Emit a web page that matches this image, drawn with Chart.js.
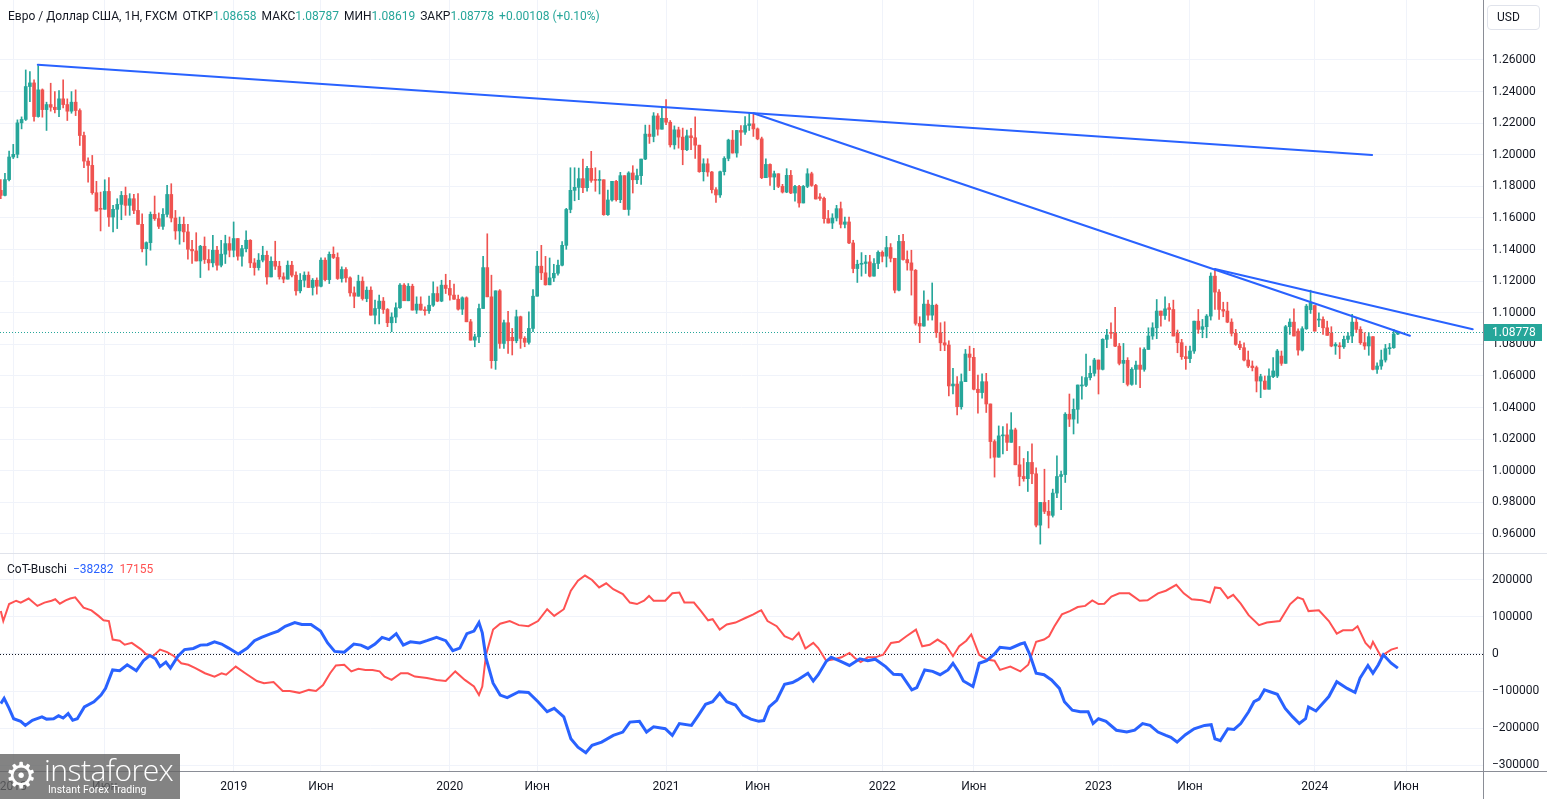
<!DOCTYPE html>
<html lang="ru">
<head>
<meta charset="utf-8">
<title>EUR/USD 1W + CoT</title>
<script src="https://cdn.jsdelivr.net/npm/chart.js@4.4.1/dist/chart.umd.min.js"></script>
<style>
  html, body { margin: 0; padding: 0; background: #fff; }
  body { position: relative; width: 1547px; height: 799px; overflow: hidden; font-family: Roboto, "Noto Sans", sans-serif; color: #131722; }
  canvas { position: absolute; left: 0; }
  #priceChart { top: 0; }
  #cotChart { top: 554px; }
  .header { position: absolute; left: 8px; top: 8px; font-size: 12px; line-height: 16px; white-space: nowrap; }
  .header .val { color: #26a69a; }
  .header .gap { margin-left: 5px; }
  .usd { position: absolute; left: 1487px; top: 5px; width: 53px; height: 25px; box-sizing: border-box; border: 1px solid #e0e3eb; border-radius: 4px; font-size: 12px; line-height: 23px; padding-left: 9px; }
  .legend { position: absolute; left: 7px; top: 561px; font-size: 12px; line-height: 16px; white-space: nowrap; color: #131722; }
  .legend .blue { color: #2962ff; margin-left: 6px; }
  .legend .red { color: #ff5252; margin-left: 6px; }
  .vline { position: absolute; left: 1483px; top: 0; width: 1px; height: 799px; background: #8a8d96; }
  .hline { position: absolute; left: 0; width: 1547px; height: 1px; }
  .logo { position: absolute; left: 0; top: 754px; width: 180px; height: 45px; background: rgba(100,100,100,0.8); color: #fff; }
  .logo .gear { position: absolute; left: 5px; top: 2px; font-size: 36px; line-height: 40px; font-family: "DejaVu Sans", sans-serif; }
  .logo .name { position: absolute; left: 44px; top: 1px; font-size: 30px; line-height: 30px; letter-spacing: -0.5px; font-family: "Liberation Sans Narrow", "Open Sans", sans-serif; font-weight: 300; }
  .logo .sub { position: absolute; left: 48px; top: 30px; font-size: 10.5px; line-height: 12px; }
</style>
</head>
<body>
<canvas id="priceChart" width="1547" height="553"></canvas>
<canvas id="cotChart" width="1547" height="245"></canvas>

<div class="header">Евро / Доллар США, 1Н, FXCM<span class="gap">ОТКР</span><span class="val">1.08658</span><span class="gap">МАКС</span><span class="val">1.08787</span><span class="gap">МИН</span><span class="val">1.08619</span><span class="gap">ЗАКР</span><span class="val">1.08778</span><span class="gap val">+0.00108 (+0.10%)</span></div>
<div class="usd">USD</div>
<div class="legend">CoT-Buschi<span class="blue">−38282</span><span class="red">17155</span></div>
<div class="hline" style="top:553px;background:#e0e3eb"></div>
<div class="hline" style="top:771px;background:#8a8d96"></div>
<div class="vline"></div>
<div class="logo"><span class="gear">⚙</span><span class="name">instaforex</span><span class="sub">Instant Forex Trading</span></div>

<script>
// weekly EUR/USD candles, week 0 = mid Dec 2017
const opens = [
  1.1775,1.1743,1.1843,1.1986,1.2003,1.2202,1.2224,1.2432,1.2455,1.2242,
  1.2411,1.2286,1.2318,1.2301,1.2286,1.2354,1.2318,1.2276,1.2333,1.2280,
  1.2122,1.1960,1.1933,1.1760,1.1660,1.1655,1.1768,1.1606,1.1655,1.1686,
  1.1743,1.1680,1.1722,1.1648,1.1560,1.1406,1.1444,1.1623,1.1596,1.1547,
  1.1623,1.1749,1.1600,1.1518,1.1560,1.1512,1.1402,1.1392,1.1328,1.1421,
  1.1337,1.1316,1.1396,1.1301,1.1371,1.1438,1.1396,1.1470,1.1358,1.1406,
  1.1459,1.1316,1.1286,1.1333,1.1364,1.1227,1.1326,1.1295,1.1228,1.1213,
  1.1301,1.1238,1.1139,1.1206,1.1238,1.1160,1.1206,1.1168,1.1333,1.1210,
  1.1370,1.1350,1.1217,1.1274,1.1221,1.1126,1.1105,1.1200,1.1090,1.1143,
  1.0985,1.1027,1.1074,1.1021,1.0937,1.0973,1.1032,1.1175,1.1076,1.1168,
  1.1017,1.1055,1.1017,1.1013,1.1048,1.1122,1.1074,1.1175,1.1154,1.1112,
  1.1086,1.1023,1.1095,1.0943,1.0827,1.0848,1.1027,1.1286,1.1101,1.0697,
  1.1139,1.0806,1.0937,1.0845,1.0823,1.0975,1.0838,1.0813,1.0901,1.1105,
  1.1295,1.1253,1.1177,1.1221,1.1250,1.1301,1.1427,1.1654,1.1775,1.1794,
  1.1849,1.1792,1.1914,1.1842,1.1838,1.1842,1.1621,1.1714,1.1832,1.1716,
  1.1868,1.1654,1.1885,1.1842,1.1868,1.1973,1.2131,1.2116,1.2246,1.2162,
  1.2231,1.2206,1.2063,1.2158,1.2112,1.2032,1.2120,1.2108,1.2061,1.1893,
  1.1943,1.1891,1.1779,1.1746,1.1893,1.1977,1.2093,1.2011,1.2154,1.2143,
  1.2185,1.2196,1.2164,1.2101,1.1855,1.1939,1.1859,1.1880,1.1800,1.1764,
  1.1870,1.1758,1.1800,1.1695,1.1800,1.1880,1.1806,1.1733,1.1724,1.1596,
  1.1568,1.1600,1.1659,1.1560,1.1575,1.1442,1.1280,1.1307,1.1312,1.1322,
  1.1232,1.1312,1.1383,1.1358,1.1413,1.1345,1.1143,1.1452,1.1337,1.1316,
  1.1269,1.0933,1.0916,1.1055,1.0985,1.1048,1.0874,1.0810,1.0796,1.0537,
  1.0549,1.0406,1.0564,1.0739,1.0718,1.0516,1.0495,1.0564,1.0423,1.0185,
  1.0086,1.0221,1.0227,1.0180,1.0259,1.0038,0.9964,0.9950,1.0053,0.9981,
  0.9656,0.9800,0.9743,0.9718,0.9859,0.9964,0.9976,1.0358,1.0327,1.0389,
  1.0537,1.0541,1.0590,1.0617,1.0701,1.0642,1.0832,1.0874,1.0870,1.0789,
  1.0680,1.0699,1.0547,1.0642,1.0669,1.0642,1.0768,1.0853,1.0905,1.1011,
  1.0983,1.1032,1.1021,1.0870,1.0811,1.0722,1.0710,1.0758,1.0947,1.0895,
  1.0912,1.0979,1.1232,1.1131,1.1021,1.1011,1.0941,1.0870,1.0800,1.0779,
  1.0701,1.0663,1.0653,1.0568,1.0568,1.0516,1.0596,1.0600,1.0726,1.0680,
  1.0912,1.0941,1.0884,1.0764,1.0899,1.1020,1.1046,1.0954,1.0958,1.0905,
  1.0870,1.0790,1.0789,1.0785,1.0832,1.0853,1.0941,1.0895,1.0811,1.0790,
  1.0849,1.0642,1.0663,1.0701,1.0773,1.0779,1.08658
];
const highs = [
  1.1843,1.1883,1.2024,1.2066,1.2221,1.2240,1.2537,1.2526,1.2474,1.2564,
  1.2417,1.2333,1.2453,1.2400,1.2406,1.2474,1.2354,1.2400,1.2411,1.2291,
  1.2143,1.1981,1.1996,1.1832,1.1764,1.1842,1.1855,1.1680,1.1722,1.1768,
  1.1796,1.1754,1.1749,1.1754,1.1627,1.1449,1.1638,1.1739,1.1632,1.1659,
  1.1806,1.1817,1.1648,1.1606,1.1606,1.1560,1.1459,1.1507,1.1427,1.1480,
  1.1400,1.1491,1.1421,1.1459,1.1491,1.1480,1.1575,1.1470,1.1427,1.1518,
  1.1463,1.1343,1.1375,1.1421,1.1390,1.1354,1.1453,1.1326,1.1253,1.1328,
  1.1326,1.1259,1.1248,1.1259,1.1259,1.1217,1.1221,1.1348,1.1348,1.1385,
  1.1417,1.1379,1.1291,1.1286,1.1227,1.1164,1.1238,1.1227,1.1164,1.1164,
  1.1080,1.1112,1.1097,1.1027,1.1000,1.1063,1.1185,1.1185,1.1185,1.1181,
  1.1101,1.1101,1.1038,1.1105,1.1196,1.1164,1.1206,1.1244,1.1206,1.1181,
  1.1112,1.1101,1.1101,1.0958,1.0865,1.1055,1.1358,1.1500,1.1238,1.1139,
  1.1147,1.0954,1.1009,1.0901,1.1017,1.0979,1.0849,1.1006,1.1147,1.1389,
  1.1427,1.1357,1.1347,1.1307,1.1333,1.1451,1.1661,1.1918,1.1918,1.1916,
  1.1973,1.1927,1.2022,1.1918,1.1900,1.1842,1.1777,1.1832,1.1838,1.1889,
  1.1868,1.1893,1.1931,1.1910,1.1973,1.2188,1.2188,1.2267,1.2261,1.2301,
  1.2349,1.2217,1.2183,1.2175,1.2169,1.2156,1.2167,1.2240,1.2061,1.1975,
  1.1975,1.1895,1.1792,1.1897,1.1988,1.2099,1.2154,1.2154,1.2185,1.2242,
  1.2263,1.2259,1.2170,1.2112,1.1975,1.1943,1.1897,1.1880,1.1813,1.1912,
  1.1901,1.1806,1.1806,1.1806,1.1912,1.1890,1.1813,1.1754,1.1733,1.1648,
  1.1627,1.1680,1.1701,1.1606,1.1606,1.1459,1.1333,1.1381,1.1364,1.1364,
  1.1343,1.1392,1.1392,1.1484,1.1438,1.1345,1.1490,1.1497,1.1392,1.1396,
  1.1274,1.0975,1.1139,1.1080,1.1189,1.1055,1.0937,1.0943,1.0823,1.0648,
  1.0596,1.0613,1.0768,1.0789,1.0775,1.0606,1.0613,1.0617,1.0423,1.0196,
  1.0284,1.0280,1.0297,1.0368,1.0270,1.0154,1.0078,1.0122,1.0170,1.0019,
  0.9800,1.0010,0.9813,0.9884,1.0095,0.9998,1.0368,1.0486,1.0455,1.0543,
  1.0596,1.0739,1.0663,1.0712,1.0701,1.0836,1.0895,1.0937,1.1034,1.0806,
  1.0806,1.0716,1.0653,1.0695,1.0779,1.0779,1.0905,1.0937,1.1084,1.1011,
  1.1101,1.1059,1.1080,1.0891,1.0832,1.0789,1.0789,1.0947,1.1021,1.0958,
  1.0989,1.1253,1.1278,1.1147,1.1067,1.1067,1.0962,1.0895,1.0821,1.0810,
  1.0758,1.0695,1.0663,1.0611,1.0600,1.0646,1.0716,1.0768,1.0758,1.0920,
  1.0962,1.1025,1.0899,1.0912,1.1053,1.1143,1.1046,1.1000,1.0975,1.0947,
  1.0912,1.0811,1.0811,1.0853,1.0874,1.0990,1.0968,1.0912,1.0874,1.0874,
  1.0849,1.0684,1.0764,1.0800,1.0806,1.0895,1.08787
];
const lows = [
  1.1722,1.1739,1.1835,1.1976,1.1981,1.2164,1.2217,1.2337,1.2213,1.2238,
  1.2238,1.2154,1.2276,1.2265,1.2242,1.2297,1.2217,1.2263,1.2248,1.2059,
  1.1918,1.1827,1.1750,1.1644,1.1518,1.1655,1.1547,1.1512,1.1533,1.1589,
  1.1617,1.1617,1.1627,1.1560,1.1385,1.1301,1.1396,1.1585,1.1533,1.1528,
  1.1606,1.1575,1.1465,1.1434,1.1449,1.1339,1.1312,1.1328,1.1223,1.1312,
  1.1270,1.1291,1.1270,1.1291,1.1312,1.1354,1.1354,1.1333,1.1295,1.1385,
  1.1286,1.1238,1.1270,1.1322,1.1181,1.1227,1.1274,1.1213,1.1190,1.1213,
  1.1227,1.1112,1.1126,1.1164,1.1160,1.1112,1.1118,1.1164,1.1201,1.1185,
  1.1343,1.1211,1.1194,1.1194,1.1105,1.1032,1.1105,1.1080,1.1070,1.0985,
  1.0929,1.0929,1.0996,1.0912,1.0880,1.0937,1.1027,1.1076,1.1076,1.1017,
  1.0996,1.1017,1.0985,1.0996,1.1040,1.1070,1.1070,1.1122,1.1080,1.1084,
  1.1017,1.0989,1.0943,1.0827,1.0785,1.0811,1.1027,1.1101,1.0649,1.0642,
  1.0775,1.0775,1.0743,1.0733,1.0810,1.0775,1.0785,1.0802,1.0880,1.1105,
  1.1210,1.1175,1.1177,1.1198,1.1238,1.1297,1.1402,1.1633,1.1709,1.1716,
  1.1760,1.1769,1.1826,1.1769,1.1752,1.1617,1.1617,1.1707,1.1707,1.1697,
  1.1654,1.1617,1.1758,1.1817,1.1813,1.1969,1.2072,1.2082,1.2124,1.2162,
  1.2191,1.2049,1.2036,1.2042,1.1937,1.2026,1.2032,1.1977,1.1889,1.1834,
  1.1864,1.1758,1.1699,1.1730,1.1872,1.1962,1.2011,1.1985,1.2060,1.2129,
  1.2154,1.2116,1.2095,1.1849,1.1855,1.1806,1.1779,1.1792,1.1758,1.1760,
  1.1754,1.1707,1.1669,1.1695,1.1792,1.1800,1.1720,1.1711,1.1568,1.1568,
  1.1533,1.1581,1.1537,1.1537,1.1438,1.1253,1.1192,1.1232,1.1249,1.1227,
  1.1232,1.1280,1.1322,1.1290,1.1322,1.1126,1.1139,1.1333,1.1270,1.1112,
  1.0922,1.0811,1.0916,1.0954,1.0954,1.0844,1.0760,1.0760,1.0474,1.0486,
  1.0354,1.0390,1.0564,1.0634,1.0512,1.0364,1.0459,1.0369,1.0080,0.9960,
  1.0086,1.0107,1.0128,1.0180,1.0038,0.9905,0.9934,0.9869,0.9918,0.9644,
  0.9536,0.9729,0.9638,0.9707,0.9830,0.9754,0.9926,1.0280,1.0233,1.0301,
  1.0453,1.0533,1.0575,1.0600,1.0486,1.0638,1.0779,1.0838,1.0785,1.0670,
  1.0558,1.0537,1.0541,1.0547,1.0526,1.0630,1.0768,1.0832,1.0836,1.0916,
  1.0958,1.0947,1.0853,1.0747,1.0705,1.0642,1.0684,1.0743,1.0870,1.0842,
  1.0842,1.0954,1.1021,1.0958,1.0975,1.0937,1.0853,1.0794,1.0766,1.0695,
  1.0653,1.0632,1.0499,1.0463,1.0516,1.0516,1.0590,1.0590,1.0667,1.0680,
  1.0863,1.0853,1.0731,1.0758,1.0895,1.0996,1.0884,1.0912,1.0863,1.0857,
  1.0785,1.0737,1.0710,1.0775,1.0811,1.0811,1.0874,1.0800,1.0768,1.0731,
  1.0638,1.0617,1.0642,1.0688,1.0737,1.0775,1.08619
];
const closes = [
  1.1743,1.1843,1.1986,1.2003,1.2202,1.2224,1.2432,1.2455,1.2242,1.2411,
  1.2286,1.2318,1.2301,1.2286,1.2354,1.2318,1.2276,1.2333,1.2280,1.2122,
  1.1960,1.1933,1.1760,1.1644,1.1655,1.1768,1.1606,1.1655,1.1686,1.1743,
  1.1680,1.1722,1.1648,1.1560,1.1406,1.1444,1.1623,1.1596,1.1547,1.1623,
  1.1749,1.1600,1.1518,1.1560,1.1512,1.1402,1.1392,1.1328,1.1421,1.1337,
  1.1316,1.1396,1.1301,1.1371,1.1438,1.1396,1.1470,1.1358,1.1406,1.1459,
  1.1316,1.1286,1.1333,1.1364,1.1227,1.1326,1.1295,1.1228,1.1213,1.1301,
  1.1238,1.1139,1.1206,1.1238,1.1160,1.1206,1.1168,1.1333,1.1210,1.1370,
  1.1350,1.1217,1.1274,1.1221,1.1126,1.1105,1.1200,1.1090,1.1143,1.0985,
  1.1027,1.1074,1.1021,1.0937,1.0973,1.1032,1.1175,1.1076,1.1168,1.1017,
  1.1055,1.1017,1.1013,1.1048,1.1122,1.1074,1.1175,1.1154,1.1112,1.1086,
  1.1023,1.1095,1.0943,1.0827,1.0848,1.1027,1.1286,1.1101,1.0697,1.1139,
  1.0806,1.0937,1.0823,1.0823,1.0975,1.0838,1.0813,1.0901,1.1105,1.1295,
  1.1253,1.1177,1.1221,1.1250,1.1301,1.1427,1.1654,1.1775,1.1794,1.1849,
  1.1792,1.1914,1.1838,1.1838,1.1842,1.1621,1.1714,1.1832,1.1716,1.1868,
  1.1654,1.1885,1.1842,1.1868,1.1973,1.2131,1.2116,1.2246,1.2162,1.2231,
  1.2206,1.2063,1.2158,1.2112,1.2032,1.2120,1.2108,1.2061,1.1893,1.1943,
  1.1891,1.1779,1.1746,1.1893,1.1977,1.2093,1.2011,1.2154,1.2143,1.2185,
  1.2196,1.2164,1.2101,1.1855,1.1939,1.1859,1.1880,1.1800,1.1764,1.1870,
  1.1758,1.1800,1.1695,1.1800,1.1880,1.1806,1.1720,1.1724,1.1596,1.1568,
  1.1600,1.1659,1.1560,1.1575,1.1442,1.1280,1.1307,1.1312,1.1322,1.1232,
  1.1312,1.1383,1.1358,1.1413,1.1345,1.1143,1.1452,1.1337,1.1316,1.1269,
  1.0933,1.0916,1.1055,1.0985,1.1048,1.0874,1.0810,1.0796,1.0537,1.0549,
  1.0406,1.0564,1.0739,1.0718,1.0516,1.0495,1.0564,1.0423,1.0185,1.0086,
  1.0221,1.0227,1.0180,1.0259,1.0038,0.9964,0.9950,1.0053,0.9981,0.9656,
  0.9800,0.9743,0.9718,0.9859,0.9964,0.9976,1.0358,1.0327,1.0389,1.0543,
  1.0541,1.0590,1.0617,1.0701,1.0642,1.0832,1.0859,1.0870,1.0789,1.0680,
  1.0699,1.0547,1.0642,1.0669,1.0642,1.0768,1.0853,1.0905,1.1011,1.0983,
  1.1025,1.1021,1.0853,1.0811,1.0722,1.0710,1.0758,1.0947,1.0895,1.0912,
  1.0979,1.1232,1.1131,1.1021,1.1011,1.0941,1.0870,1.0800,1.0779,1.0701,
  1.0663,1.0653,1.0568,1.0596,1.0516,1.0600,1.0632,1.0758,1.0680,1.0912,
  1.0941,1.0853,1.0764,1.0899,1.1042,1.1063,1.0884,1.0958,1.0905,1.0857,
  1.0790,1.0800,1.0785,1.0832,1.0853,1.0941,1.0895,1.0811,1.0790,1.0849,
  1.0642,1.0663,1.0701,1.0773,1.0779,1.0866,1.08778
];

// trend lines drawn on the chart: [start, end] in weeks and prices
const trendWeeks = [[8.9, 329.8], [181.0, 338.9], [292.0, 354.0]];
const trendPrices = [[1.2570, 1.1999], [1.2263, 1.0855], [1.1277, 1.0896]];

// CoT-Buschi lines (week, value)
const blueWeeks = [
  0,0.8,2,3.1,4.8,5.9,7.6,9.9,11,12.7,13.9,15,16.2,17.3,18.4,20.1,22.4,24.1,25.2,26.9,
  28.6,30.4,32.6,34.3,35.8,37.2,38.3,39.7,40.8,42.6,44.2,46.3,48,49.7,51.4,53.1,54.8,57.1,59.3,61,
  62.7,65,66.7,68.4,70.7,72.4,74.6,76.9,78.6,80.3,82.6,84.9,86.6,88.3,90,91.7,93.4,95.1,96.8,98.5,
  100.8,102.5,104.8,107,108.7,110.4,112.1,113.8,115,115.8,116.7,118.4,120.1,121.8,124.6,126.9,129.2,131.4,133.1,135.4,
  137.1,138.8,140.7,142.2,144.5,147.3,149.6,151.3,153.6,155.3,157,159.8,161.5,163.2,166.1,167.8,169.5,171.2,172.9,174.6,
  176.7,178.5,180.4,182.3,183.5,184.8,186.6,188.5,190.4,191.6,194.1,195.4,196.6,198.5,199.7,201.6,204.1,206.6,208.5,210.3,
  212.8,214.7,216.6,219.1,220.3,222.2,224.1,225.9,227.8,229,230.3,231.5,233.8,235.3,237.1,239,240.3,242.8,245.2,246.2,
  247.5,249,250.9,252.7,254.6,255.8,257.7,259.6,261.5,262.7,264,265.8,268.3,270.8,272.7,274.6,276.4,278.3,280.2,281.4,
  282.9,284.9,287,289.5,291.1,292,293.3,295.1,296.6,298.2,300.1,301.4,302.6,303.9,307,308.9,310.7,312.3,313.8,314.5,
  316.3,319.4,321.3,323.8,325.7,326.9,328.8,330,331.3,332.5,334.4,336
];
const blueValues = [
  -134000,-120000,-147000,-175000,-182000,-193000,-179000,-170000,-176000,-175000,-167000,-173000,-161000,-179000,-175000,-143000,-129000,-111000,-93000,-43000,
  -45000,-29000,-45000,-18000,-4000,-13000,-34000,-22000,-38000,-6000,12000,15000,24000,25000,33000,27000,16000,0,16000,36000,
  45000,55000,62000,75000,85000,80000,80000,62000,30000,7000,5000,27000,24000,15000,27000,45000,39000,55000,24000,33000,
  30000,36000,45000,36000,9000,16000,55000,62000,85000,57000,-11000,-79000,-111000,-118000,-102000,-104000,-129000,-156000,-147000,-170000,
  -229000,-252000,-267000,-247000,-238000,-220000,-211000,-184000,-182000,-211000,-197000,-202000,-220000,-188000,-193000,-165000,-136000,-129000,-106000,-129000,
  -138000,-165000,-176000,-182000,-180000,-143000,-125000,-82000,-77000,-70000,-52000,-73000,-56000,-20000,-9000,-18000,-31000,-13000,-18000,-14000,
  -34000,-55000,-56000,-97000,-91000,-43000,-47000,-56000,-43000,-25000,-47000,-73000,-88000,-25000,-18000,0,18000,15000,27000,30000,
  -2000,-52000,-56000,-70000,-93000,-129000,-152000,-156000,-156000,-188000,-175000,-182000,-206000,-211000,-206000,-188000,-193000,-211000,-220000,-225000,
  -238000,-218000,-202000,-193000,-191000,-229000,-234000,-202000,-204000,-188000,-156000,-129000,-122000,-97000,-109000,-147000,-170000,-188000,-175000,-143000,
  -154000,-115000,-75000,-93000,-104000,-65000,-31000,-52000,-29000,-2000,-25000,-38282
];
const redWeeks = [
  0,0.6,2,3.7,4.8,6.7,8.8,10.5,12.2,13.1,14.2,15.6,16.7,17.9,19.9,21.8,23.5,24.7,26,26.9,
  28.6,29.8,31.5,33.8,34.9,36.6,38.3,40,41.7,43.4,45.1,46.8,49.1,51.4,53.1,54.2,56.5,58.8,61.6,63.3,
  65.6,67.8,69.5,71.8,74.1,75.8,77.5,79.2,80.6,82.6,84.3,86,87.7,89.4,91.1,92.3,94,96.2,97.9,99.6,
  102.5,104.8,107,109.3,111.6,113.8,115,115.8,116.7,118.4,120.1,122.4,124.6,126.9,129.2,131.4,133.1,135.4,137.1,138.8,
  140.5,142.2,143.9,145.6,147.3,149.6,151.3,153,154.7,155.9,157,159.8,161.5,163.2,164.4,166.7,168.4,170.1,171.2,172.9,
  174.6,176.7,179.2,181,182.3,182.9,184.4,186.6,188.5,190.4,191.9,193.5,195.4,196.6,198.5,200.4,202.2,204.1,205.4,206.8,
  208.5,210.3,212.2,214.1,216,217.8,220.1,221.6,223.4,225.3,227.2,229,230.5,232.2,233.4,235.3,237.1,239,240.3,242.8,
  245.2,247.1,249,250.9,252.1,253.4,255.2,257.1,259,260.8,262.5,264,265.4,267.1,269,271.4,273.9,275.8,278.3,280.2,
  282.7,284.5,286.4,288.9,290.8,292,293.3,295.1,296.4,298.2,300.1,302.6,304.5,307.6,310.1,311.9,313.2,314.5,317,319.4,
  321.3,322.8,325.1,326.3,328.2,329.4,330,331.9,334.4,336
];
const redValues = [
  116000,89000,135000,144000,139000,150000,130000,139000,144000,148000,136000,145000,150000,153000,125000,118000,103000,91000,89000,39000,
  36000,25000,30000,12000,0,-6000,12000,5000,-6000,-25000,-29000,-38000,-52000,-61000,-52000,-56000,-34000,-52000,-73000,-79000,
  -76000,-100000,-100000,-105000,-97000,-100000,-84000,-52000,-31000,-29000,-47000,-40000,-43000,-43000,-47000,-61000,-70000,-52000,-52000,-61000,
  -65000,-70000,-73000,-47000,-70000,-88000,-111000,-88000,-2000,66000,82000,89000,78000,75000,89000,121000,103000,121000,171000,198000,
  212000,200000,180000,191000,175000,162000,139000,135000,144000,157000,144000,144000,164000,166000,139000,139000,116000,91000,94000,66000,
  80000,85000,98000,107000,115000,118000,89000,75000,48000,39000,57000,15000,30000,16000,-18000,-14000,-9000,3000,-11000,-22000,
  -9000,-9000,-2000,30000,33000,48000,66000,21000,25000,39000,25000,-6000,21000,36000,53000,-2000,-15000,-18000,-43000,-34000,
  -47000,-29000,33000,39000,48000,75000,107000,116000,127000,130000,145000,135000,136000,155000,164000,164000,144000,145000,164000,171000,
  187000,164000,148000,145000,139000,180000,178000,151000,160000,136000,105000,78000,85000,89000,135000,153000,148000,116000,118000,89000,
  55000,64000,64000,75000,30000,16000,33000,-6000,12000,17155
];

// axis ticks
const priceTicks = [0.96, 0.98, 1.00, 1.02, 1.04, 1.06, 1.08, 1.10, 1.12, 1.14, 1.16, 1.18, 1.20, 1.22, 1.24, 1.26];
const cotTicks = [200000, 100000, 0, -100000, -200000, -300000];
const weekTicks = [3, 25, 56, 77, 108, 129, 160, 182, 212, 234, 264, 286, 316, 338];
const weekTickLabels = ['2018', 'Июн', '2019', 'Июн', '2020', 'Июн', '2021', 'Июн', '2022', 'Июн', '2023', 'Июн', '2024', 'Июн'];

const UP = '#26a69a';
const DOWN = '#ef5350';
const GRID = '#f0f3fa';
const TEXT = '#131722';

// visible window, shared by both panes
const X_MIN = -0.19;
const X_MAX = 356.47;
const AXIS_W = 64;

Chart.defaults.font.family = 'Roboto';

const candleColor = ctx => closes[ctx.dataIndex] >= opens[ctx.dataIndex] ? UP : DOWN;
const lastClose = closes[closes.length - 1];

function xScale() {
    return {
        type: 'linear',
        min: X_MIN,
        max: X_MAX,
        offset: false,
        ticks: { display: false },
        grid: { color: GRID, drawTicks: false, offset: false },
        border: { display: false },
        afterBuildTicks: s => { s.ticks = weekTicks.map(v => ({ value: v })); }
    };
}

function yScale(min, max, ticks) {
    return {
        position: 'right',
        min: min,
        max: max,
        ticks: { display: false },
        grid: { color: GRID, drawTicks: false },
        border: { display: false },
        afterBuildTicks: s => { s.ticks = ticks.map(v => ({ value: v })); },
        afterFit: s => { s.width = AXIS_W; }
    };
}

function dotted(ctx, area, py, color) {
    const y = Math.round(py) + 0.5;
    ctx.save();
    ctx.strokeStyle = color;
    ctx.lineWidth = 1;
    ctx.setLineDash([1, 2]);
    ctx.beginPath();
    ctx.moveTo(area.left, y);
    ctx.lineTo(area.right, y);
    ctx.stroke();
    ctx.restore();
}

function yLabels(chart, fmt) {
    const ctx = chart.ctx, y = chart.scales.y;
    ctx.save();
    ctx.font = '12px Roboto';
    ctx.fillStyle = TEXT;
    ctx.textAlign = 'left';
    ctx.textBaseline = 'middle';
    y.ticks.forEach(t => ctx.fillText(fmt(t.value), y.left + 9, y.getPixelForValue(t.value)));
    ctx.restore();
}

const pricePainter = {
    id: 'pricePainter',
    beforeDatasetsDraw(chart) {
        dotted(chart.ctx, chart.chartArea, chart.scales.y.getPixelForValue(lastClose), UP);
    },
    afterDraw(chart) {
        yLabels(chart, v => v.toFixed(5));
        // last price badge
        const ctx = chart.ctx, y = chart.scales.y;
        const py = Math.round(y.getPixelForValue(lastClose));
        ctx.save();
        ctx.fillStyle = UP;
        ctx.fillRect(y.left + 1, py - 8, 58, 17);
        ctx.fillStyle = '#fff';
        ctx.font = '12px Roboto';
        ctx.textBaseline = 'middle';
        ctx.fillText(lastClose.toFixed(5), y.left + 9, py + 0.5);
        ctx.restore();
    }
};

const cotPainter = {
    id: 'cotPainter',
    beforeDatasetsDraw(chart) {
        dotted(chart.ctx, chart.chartArea, chart.scales.y.getPixelForValue(0), TEXT);
    },
    afterDraw(chart) {
        yLabels(chart, v => v < 0 ? '−' + Math.abs(v) : String(v));
        const ctx = chart.ctx, x = chart.scales.x;
        ctx.save();
        ctx.font = '12px Roboto';
        ctx.fillStyle = TEXT;
        ctx.textAlign = 'center';
        ctx.textBaseline = 'middle';
        weekTicks.forEach((w, i) => ctx.fillText(weekTickLabels[i], x.getPixelForValue(w), chart.chartArea.bottom + 16));
        ctx.restore();
    }
};

const trendSets = trendWeeks.map((w, k) => ({
    type: 'line',
    data: [{ x: w[0], y: trendPrices[k][0] }, { x: w[1], y: trendPrices[k][1] }],
    borderColor: '#2962ff',
    borderWidth: 2,
    pointRadius: 0,
    borderCapStyle: 'round',
    order: 0
}));

new Chart(document.getElementById('priceChart'), {
    type: 'bar',
    data: {
        datasets: [
            ...trendSets,
            {
                data: opens.map((o, i) => ({ x: i, y: [o, closes[i]] })),
                backgroundColor: candleColor,
                barThickness: 3,
                minBarLength: 1,
                grouped: false,
                order: 1
            },
            {
                data: lows.map((l, i) => ({ x: i, y: [l, highs[i]] })),
                backgroundColor: candleColor,
                barThickness: 1,
                grouped: false,
                order: 2
            }
        ]
    },
    options: {
        responsive: false,
        animation: false,
        events: [],
        layout: { padding: 0 },
        plugins: { legend: { display: false }, tooltip: { enabled: false } },
        scales: {
            x: xScale(),
            y: yScale(0.94797, 1.29797, priceTicks)
        }
    },
    plugins: [pricePainter]
});

new Chart(document.getElementById('cotChart'), {
    type: 'line',
    data: {
        datasets: [
            {
                data: blueWeeks.map((w, i) => ({ x: w, y: blueValues[i] })),
                borderColor: '#2962ff',
                borderWidth: 3,
                pointRadius: 0,
                order: 0
            },
            {
                data: redWeeks.map((w, i) => ({ x: w, y: redValues[i] })),
                borderColor: '#ff5252',
                borderWidth: 2,
                pointRadius: 0,
                order: 1
            }
        ]
    },
    options: {
        responsive: false,
        animation: false,
        events: [],
        layout: { padding: { top: 0, bottom: 28, left: 0, right: 0 } },
        plugins: { legend: { display: false }, tooltip: { enabled: false } },
        scales: {
            x: xScale(),
            y: yScale(-316216, 270270, cotTicks)
        }
    },
    plugins: [cotPainter]
});
</script>
</body>
</html>
